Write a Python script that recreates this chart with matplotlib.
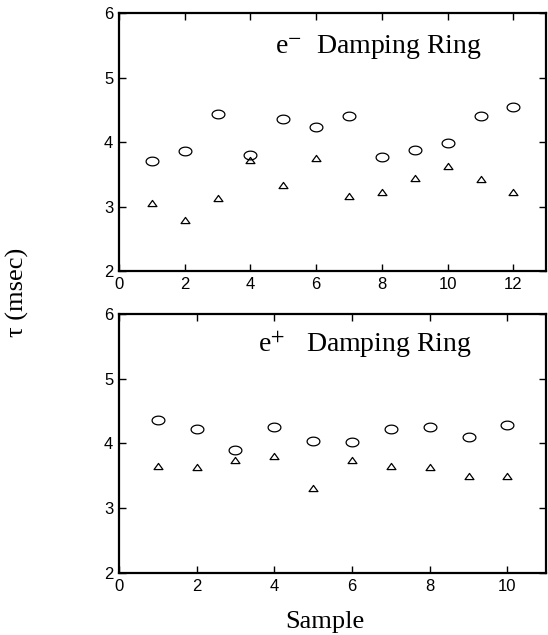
import numpy as np
import matplotlib.pyplot as plt
from matplotlib.path import Path

# ====== DATA ======
# e- damping ring, samples 1..12
em_sample = [1, 2, 3, 4, 5, 6, 7, 8, 9, 10, 11, 12]
em_circle = [3.70, 3.86, 4.43, 3.80, 4.36, 4.23, 4.41, 3.77, 3.87, 3.98, 4.40, 4.55]
em_triangle = [3.06, 2.80, 3.14, 3.72, 3.34, 3.76, 3.17, 3.22, 3.45, 3.63, 3.43, 3.22]

# e+ damping ring, samples 1..10
ep_sample = [1, 2, 3, 4, 5, 6, 7, 8, 9, 10]
ep_circle = [4.37, 4.22, 3.90, 4.25, 4.04, 4.03, 4.22, 4.25, 4.10, 4.29]
ep_triangle = [3.66, 3.63, 3.74, 3.80, 3.31, 3.75, 3.65, 3.63, 3.50, 3.50]

plt.rcParams['mathtext.fontset'] = 'stix'
serif = 'Liberation Serif'
sans = 'Liberation Sans'

# the original scan is stretched sideways, so markers are slightly flattened
t = np.linspace(0, 2 * np.pi, 60)
oval = Path(np.column_stack([np.cos(t), 0.68 * np.sin(t)]), closed=True)
tri = Path([(0, 0.69), (-1, -0.69), (1, -0.69), (0, 0.69)], closed=True)

fig = plt.figure(figsize=(5.48, 6.35), dpi=100)
ax1 = fig.add_axes([0.217, 0.573, 0.78, 0.4065])
ax2 = fig.add_axes([0.217, 0.0976, 0.78, 0.408])


def style(ax, xmax, xticks):
    ax.set_xlim(0, xmax)
    ax.set_ylim(2, 6)
    ax.set_xticks(xticks)
    ax.set_yticks([2, 3, 4, 5, 6])
    ax.tick_params(direction='in', length=5, width=1, top=True, right=True,
                   labelsize=12, pad=4)
    for lbl in ax.get_xticklabels() + ax.get_yticklabels():
        lbl.set_fontfamily(sans)
    for s in ax.spines.values():
        s.set_linewidth(1.6)


ax1.plot(em_sample, em_circle, ls='none', marker=oval, mfc='none', mec='black', ms=9.2, mew=0.9)
ax1.plot(em_sample, em_triangle, ls='none', marker=tri, mfc='none', mec='black', ms=6.4, mew=0.9)
style(ax1, 13, [0, 2, 4, 6, 8, 10, 12])
ax1.text(4.74, 5.38, r'e$^{-}$  Damping Ring', fontfamily=serif, fontsize=20)

ax2.plot(ep_sample, ep_circle, ls='none', marker=oval, mfc='none', mec='black', ms=9.2, mew=0.9)
ax2.plot(ep_sample, ep_triangle, ls='none', marker=tri, mfc='none', mec='black', ms=6.4, mew=0.9)
style(ax2, 11, [0, 2, 4, 6, 8, 10])
ax2.text(3.58, 5.41, r'e$^{+}$   Damping Ring', fontfamily=serif, fontsize=20)

fig.text(0.031, 0.54, 'τ (msec)', rotation=90, fontfamily=serif,
         fontsize=19, ha='center', va='center')
fig.text(0.593, 0.02, 'Sample', fontfamily=serif, fontsize=19,
         ha='center', va='center')

fig.savefig('out.png', dpi=100)
